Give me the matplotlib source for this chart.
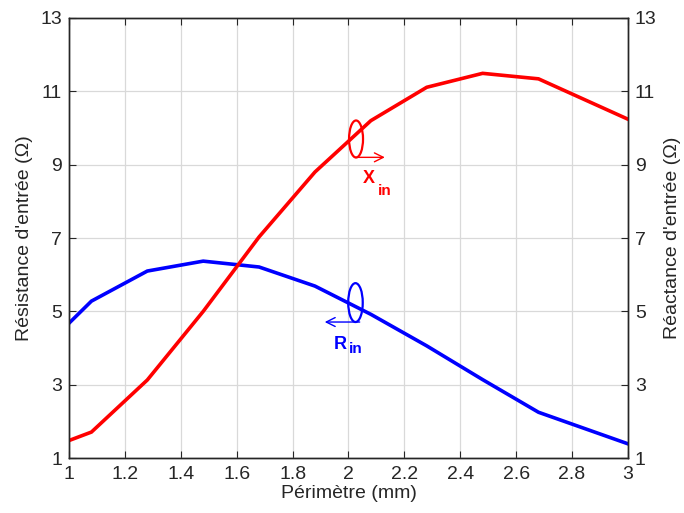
import numpy as np
import matplotlib
matplotlib.use("Agg")
import matplotlib.pyplot as plt
from matplotlib.patches import Ellipse

plt.rcParams['font.family'] = ['Liberation Sans', 'DejaVu Sans']

# données
perimetre = [1.0, 1.08, 1.28, 1.48, 1.68, 1.88, 2.08, 2.28, 2.48, 2.68, 3.0]
r_in = [4.68, 5.28, 6.10, 6.37, 6.21, 5.69, 4.92, 4.06, 3.14, 2.25, 1.39]
x_in = [1.48, 1.71, 3.13, 5.00, 7.03, 8.80, 10.20, 11.11, 11.49, 11.34, 10.24]
y_ticks = [1, 3, 5, 7, 9, 11, 13]
x_ticks = [1, 1.2, 1.4, 1.6, 1.8, 2, 2.2, 2.4, 2.6, 2.8, 3]
x_tick_labels = ['1', '1.2', '1.4', '1.6', '1.8', '2', '2.2', '2.4', '2.6', '2.8', '3']

dark = '#262626'

fig = plt.figure(figsize=(6.84, 5.13), dpi=100)
ax = fig.add_axes([0.101, 0.107, 0.817, 0.858])
ax2 = ax.twinx()

ax.plot(perimetre, r_in, color='#0000ff', lw=2.6, solid_joinstyle='miter')
ax2.plot(perimetre, x_in, color='#ff0000', lw=2.6, solid_joinstyle='miter')

for a in (ax, ax2):
    a.set_xlim(1, 3)
    a.set_ylim(1, 13)
    a.set_yticks(y_ticks)
    a.tick_params(direction='in', labelsize=14, length=5, width=0.8, pad=5,
                  color=dark, labelcolor=dark)
    for s in a.spines.values():
        s.set_linewidth(1.0)
        s.set_color(dark)

ax.set_xticks(x_ticks)
ax.set_xticklabels(x_tick_labels)
ax.tick_params(axis='x', top=True, pad=6)
ax.grid(True, color='#d9d9d9', lw=0.9)
ax.set_axisbelow(True)

ax.set_xlabel('Périmètre (mm)', fontsize=14, labelpad=1, color=dark)
ax.set_ylabel("Résistance d'entrée (Ω)", fontsize=14, labelpad=5, color=dark)
ax2.set_ylabel("Réactance d'entrée (Ω)", fontsize=14, labelpad=5, color=dark)

# annotations : ellipses + flèches
ax.add_patch(Ellipse((2.025, 5.24), 0.052, 1.06, fill=False, ec='#0000ff', lw=1.6))
ax.annotate('', xy=(1.905, 4.71), xytext=(2.05, 4.71),
            arrowprops=dict(arrowstyle='->', color='#0000ff', lw=1.0, mutation_scale=16))
ax.text(1.946, 3.97, 'R', color='#0000ff', fontsize=13, fontweight='bold',
        ha='left', va='baseline')
ax.text(2.0, 3.86, 'in', color='#0000ff', fontsize=11, fontweight='bold',
        ha='left', va='baseline')

ax2.add_patch(Ellipse((2.027, 9.7), 0.05, 1.01, fill=False, ec='#ff0000', lw=1.6))
ax2.annotate('', xy=(2.14, 9.2), xytext=(2.015, 9.2),
             arrowprops=dict(arrowstyle='->', color='#ff0000', lw=1.0, mutation_scale=16))
ax2.text(2.05, 8.50, 'X', color='#ff0000', fontsize=13, fontweight='bold',
         ha='left', va='baseline')
ax2.text(2.104, 8.17, 'in', color='#ff0000', fontsize=11, fontweight='bold',
         ha='left', va='baseline')

fig.savefig('out.png', dpi=100)
